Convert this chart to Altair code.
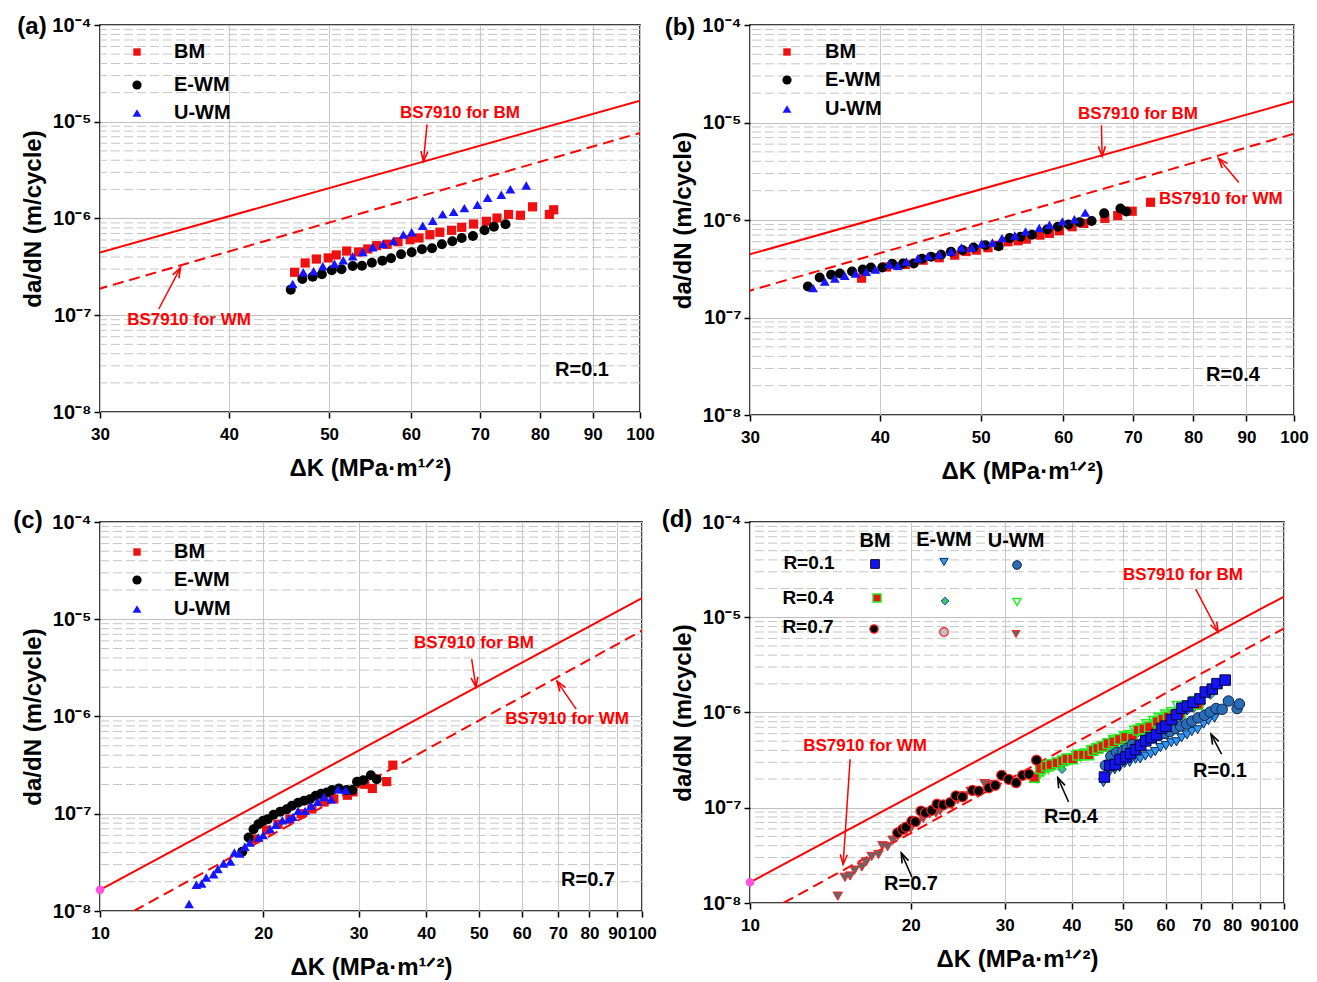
import math
import altair as alt
import pandas as pd

FONT = "Liberation Sans"
RED = "#ff0000"

# ---------------- data ----------------
# panel (a) R=0.1
a_bm_k = [46.3, 47.4, 48.6, 49.9, 50.8, 52.0, 53.4, 54.5, 55.6, 56.9, 58.3, 59.9, 61.1, 62.6, 64.0,
          65.7, 67.2, 69.0, 71.0, 72.7, 74.6, 76.6, 78.7, 81.7, 82.5]
a_bm_v = [2.78e-7, 3.47e-7, 3.81e-7, 3.91e-7, 4.20e-7, 4.61e-7, 4.51e-7, 4.84e-7, 5.24e-7, 5.41e-7,
          5.75e-7, 6.04e-7, 6.29e-7, 6.80e-7, 7.20e-7, 7.55e-7, 8.11e-7, 8.77e-7, 9.35e-7, 1.01e-6,
          1.10e-6, 1.08e-6, 1.32e-6, 1.10e-6, 1.23e-6]
a_ewm_k = [45.9, 47.1, 48.2, 49.2, 50.3, 51.4, 52.7, 53.8, 55.0, 56.3, 57.4, 58.7, 60.1, 61.5, 62.9,
           64.3, 65.8, 67.2, 68.9, 70.7, 72.2, 74.1]
a_ewm_v = [1.84e-7, 2.37e-7, 2.50e-7, 2.65e-7, 2.92e-7, 2.99e-7, 3.23e-7, 3.25e-7, 3.49e-7, 3.66e-7,
           3.88e-7, 4.27e-7, 4.48e-7, 4.81e-7, 4.92e-7, 5.41e-7, 5.81e-7, 6.29e-7, 6.59e-7, 7.55e-7,
           8.23e-7, 8.71e-7]
a_uwm_k = [46.1, 47.2, 48.3, 49.3, 50.6, 51.6, 52.7, 53.9, 55.1, 56.4, 57.7, 59.0, 60.1, 61.6, 63.0,
           64.4, 66.0, 67.6, 69.6, 71.2, 73.4, 74.9, 77.6]
a_uwm_v = [2.10e-7, 2.78e-7, 2.85e-7, 3.21e-7, 3.41e-7, 3.70e-7, 4.07e-7, 4.51e-7, 5.04e-7, 5.45e-7,
           5.85e-7, 6.81e-7, 7.20e-7, 8.43e-7, 9.49e-7, 1.11e-6, 1.17e-6, 1.28e-6, 1.39e-6, 1.64e-6,
           1.76e-6, 2.01e-6, 2.19e-6]

# panel (b) R=0.4
b_bm_k = [38.4, 40.6, 42.3, 44.0, 45.6, 47.2, 48.4, 49.5, 50.8, 52.0, 53.1, 54.3, 55.3, 57.0, 58.2,
          59.5, 61.2, 62.8, 65.8, 67.7, 69.9, 72.8]
b_bm_v = [2.53e-7, 3.30e-7, 3.50e-7, 3.87e-7, 4.10e-7, 4.36e-7, 4.75e-7, 4.91e-7, 5.20e-7, 5.50e-7,
          5.98e-7, 6.12e-7, 6.37e-7, 7.00e-7, 7.30e-7, 7.76e-7, 8.53e-7, 9.23e-7, 1.04e-6, 1.11e-6,
          1.23e-6, 1.52e-6]
b_ewm_k = [34.1, 35.0, 35.9, 36.6, 37.6, 38.5, 39.2, 40.2, 41.1, 42.1, 43.1, 43.9, 44.8, 45.8, 46.8,
           48.0, 49.2, 50.5, 52.0, 53.3, 54.6, 56.0, 57.9, 59.3, 60.7, 62.2, 63.9, 65.7, 68.1, 69.0]
b_ewm_v = [2.08e-7, 2.57e-7, 2.74e-7, 2.83e-7, 2.96e-7, 3.10e-7, 3.26e-7, 3.26e-7, 3.56e-7, 3.58e-7,
           3.58e-7, 4.00e-7, 4.20e-7, 4.40e-7, 4.72e-7, 4.91e-7, 5.23e-7, 5.52e-7, 5.39e-7, 6.52e-7,
           6.73e-7, 7.06e-7, 8.00e-7, 8.53e-7, 9.01e-7, 9.51e-7, 9.75e-7, 1.17e-6, 1.31e-6, 1.22e-6]
b_uwm_k = [34.5, 35.4, 36.2, 37.0, 37.9, 38.8, 39.6, 40.8, 41.6, 42.4, 43.5, 44.5, 45.6, 46.8, 47.9,
           49.0, 50.1, 51.3, 52.4, 53.9, 55.2, 56.9, 58.2, 59.9, 61.5, 63.0]
b_uwm_v = [2.00e-7, 2.34e-7, 2.51e-7, 2.68e-7, 2.83e-7, 2.94e-7, 3.10e-7, 3.52e-7, 3.39e-7, 3.76e-7,
           4.06e-7, 4.26e-7, 4.43e-7, 4.75e-7, 5.23e-7, 5.23e-7, 5.75e-7, 5.89e-7, 6.52e-7, 6.95e-7,
           7.64e-7, 8.26e-7, 8.95e-7, 9.68e-7, 1.02e-6, 1.19e-6]

# panel (c) R=0.7
c_bm_k = [19.2, 20.3, 21.3, 22.4, 23.5, 24.6, 25.9, 27.0, 28.6, 29.3, 30.8, 31.8, 33.8, 34.7]
c_bm_v = [5.5e-8, 6.8e-8, 7.8e-8, 8.8e-8, 1.0e-7, 1.12e-7, 1.32e-7, 1.42e-7, 1.55e-7, 1.68e-7,
          2.01e-7, 1.82e-7, 2.14e-7, 3.16e-7]
c_ewm_k = [18.3, 18.8, 19.2, 19.6, 20.0, 20.4, 20.9, 21.5, 22.1, 22.6, 23.2, 23.8, 24.4, 25.0, 25.6,
           26.2, 26.8, 27.6, 28.5, 29.2, 29.8, 30.6, 31.6, 32.4]
c_ewm_v = [4.06e-8, 5.69e-8, 6.94e-8, 7.82e-8, 8.45e-8, 8.80e-8, 9.75e-8, 1.05e-7, 1.11e-7, 1.21e-7,
           1.30e-7, 1.36e-7, 1.41e-7, 1.53e-7, 1.61e-7, 1.65e-7, 1.75e-7, 1.82e-7, 1.75e-7, 1.75e-7,
           2.13e-7, 2.21e-7, 2.49e-7, 2.27e-7]
c_uwm_k = [14.6, 15.06, 15.4, 15.7, 16.2, 16.5, 16.9, 17.4, 17.7, 18.1, 18.5, 18.9, 19.6, 20.0, 20.6,
           21.1, 21.7, 22.3, 22.7, 23.2, 23.9, 24.5, 25.2, 25.9, 26.7, 27.5, 28.4]
c_uwm_v = [1.18e-8, 1.86e-8, 1.92e-8, 2.21e-8, 2.39e-8, 2.70e-8, 3.08e-8, 3.23e-8, 3.99e-8, 3.90e-8,
           4.57e-8, 5.06e-8, 5.69e-8, 6.03e-8, 6.95e-8, 7.69e-8, 8.59e-8, 8.80e-8, 9.29e-8, 1.07e-7,
           1.07e-7, 1.21e-7, 1.33e-7, 1.49e-7, 1.41e-7, 1.79e-7, 1.75e-7]

# panel (d) R=0.7 BM points (black circles)
d_bm7_k = [18.9, 19.3, 19.6, 20.1, 20.4, 20.9, 21.3, 21.9, 22.4, 23.0, 23.7, 24.3, 25.0, 26.1, 26.8,
           28.0, 28.8, 29.6, 30.5, 31.5, 32.4, 33.3, 34.4]
d_bm7_v = [5.45e-8, 5.93e-8, 6.27e-8, 7.24e-8, 7.13e-8, 9.23e-8, 8.86e-8, 9.39e-8, 1.09e-7, 1.07e-7,
           1.13e-7, 1.33e-7, 1.30e-7, 1.52e-7, 1.50e-7, 1.62e-7, 1.72e-7, 2.19e-7, 1.99e-7, 1.83e-7,
           2.19e-7, 2.25e-7, 3.16e-7]

# BS7910 reference lines
bs_bm_k = [10, 100]
bs_bm_v = [1.65e-8, 1.65e-5]
bs_wm_k = [11.55, 100]
bs_wm_v = [1.0e-8, 7.66e-6]
start_k = [10]
start_v = [1.65e-8]

# ticks
y_major = [1e-8, 1e-7, 1e-6, 1e-5, 1e-4]
y_minor = [m * 10.0 ** e for e in range(-8, -4) for m in range(2, 10)]
x_ticks_ab = [30, 40, 50, 60, 70, 80, 90, 100]
x_ticks_cd = [10, 20, 30, 40, 50, 60, 70, 80, 90, 100]

# annotation arrows: (tail_k, tail_v, tip_k, tip_v, colour)
arrows_a = [(62.2, 9.4e-6, 61.7, 3.9e-6, RED), (34.2, 1.16e-7, 35.9, 3.1e-7, RED)]
arrows_b = [(65.3, 9.4e-6, 65.4, 4.5e-6, RED), (88.5, 2.43e-6, 84.6, 4.3e-6, RED)]
arrows_c = [(48.5, 3.88e-6, 49.4, 2.0e-6, RED), (75.6, 1.19e-6, 69.7, 2.3e-6, RED)]
arrows_d = [(68.3, 1.99e-5, 75.3, 7.0e-6, RED), (15.4, 3.23e-7, 14.94, 2.54e-8, RED),
            (76.4, 3.65e-7, 73.0, 5.93e-7, "black"), (39.5, 1.15e-7, 37.7, 2.07e-7, "black"),
            (20.1, 1.87e-8, 19.2, 3.36e-8, "black")]

ARROW_PATH = "M-0.35,1L0,0L0.35,1"

Y_LABELS = ("datum.value > 5e-5 ? '10⁻⁴' : datum.value > 5e-6 ? '10⁻⁵' : "
            "datum.value > 5e-7 ? '10⁻⁶' : datum.value > 5e-8 ? '10⁻⁷' : '10⁻⁸'")


def df(k, v):
    return pd.DataFrame({"k": k, "v": v})


def txt(label, x, y, size=17, color="black", align="center"):
    return alt.Chart(pd.DataFrame({"t": [label]})).mark_text(
        font=FONT, fontWeight="bold", fontSize=size, color=color, align=align, baseline="middle"
    ).encode(x=alt.value(x), y=alt.value(y), text="t:N")


def sym(x, y, style):
    return alt.Chart(pd.DataFrame({"t": [0]})).mark_point(**style).encode(
        x=alt.value(x), y=alt.value(y))


def panel(xdom, xticks, W, H, series, arrows, texts, legend_marks, magenta=False):
    xs = alt.Scale(type="log", domain=xdom, nice=False)
    ys = alt.Scale(type="log", domain=[1e-8, 1e-4], nice=False)
    xax = alt.Axis(values=xticks, format="d", labelOverlap=False, labelFlush=False,
                   labelFont=FONT, labelFontSize=17,
                   labelFontWeight="bold", labelColor="black", labelPadding=8,
                   title="ΔK (MPa·m¹ᐟ²)", titleFont=FONT, titleFontSize=24,
                   titleFontWeight="bold", titleColor="black", titlePadding=14,
                   grid=True, gridColor="#c8c8c8", gridWidth=1, domain=False,
                   tickColor="black", tickSize=6, tickWidth=1.5)
    yax = alt.Axis(values=y_major, labelExpr=Y_LABELS, labelFlush=False, labelFont=FONT,
                   labelFontSize=20, labelFontWeight="bold", labelColor="black", labelPadding=3,
                   title="da/dN (m/cycle)", titleFont=FONT, titleFontSize=24,
                   titleFontWeight="bold", titleColor="black", titlePadding=6,
                   grid=True, gridColor="#c0c0c0", gridWidth=1.2, domain=False,
                   tickColor="black", tickSize=6, tickWidth=1.5)
    X = alt.X("k:Q", scale=xs, axis=xax)
    Y = alt.Y("v:Q", scale=ys, axis=yax)

    layers = []
    layers.append(alt.Chart(pd.DataFrame({"v": y_minor})).mark_rule(
        color="#c6c6c6", strokeWidth=1, strokeDash=[9, 4]).encode(y=Y))
    layers.append(alt.Chart(df(bs_bm_k, bs_bm_v)).mark_line(
        color=RED, strokeWidth=2, clip=True).encode(x=X, y=Y))
    layers.append(alt.Chart(df(bs_wm_k, bs_wm_v)).mark_line(
        color=RED, strokeWidth=2, strokeDash=[11, 6], clip=True).encode(x=X, y=Y))
    if magenta:
        layers.append(alt.Chart(df(start_k, start_v)).mark_point(
            shape="circle", filled=True, fill="#ff55dd", stroke="#ff55dd", size=45,
            opacity=1).encode(x=X, y=Y))
    for k, v, style in series:
        layers.append(alt.Chart(df(k, v)).mark_point(clip=True, opacity=1, **style).encode(x=X, y=Y))

    sx = W / (math.log10(xdom[1]) - math.log10(xdom[0]))
    sy = H / 4.0
    for (tk, tv, pk, pv, col) in arrows:
        d = pd.DataFrame({"k": [tk], "v": [tv], "k2": [pk], "v2": [pv]})
        layers.append(alt.Chart(d).mark_rule(color=col, strokeWidth=1.5).encode(
            x=X, y=Y, x2="k2:Q", y2="v2:Q"))
        dx = (math.log10(pk) - math.log10(tk)) * sx
        dy = -(math.log10(pv) - math.log10(tv)) * sy
        ang = math.degrees(math.atan2(dx, -dy)) % 360
        h = pd.DataFrame({"k": [pk], "v": [pv], "ang": [ang]})
        layers.append(alt.Chart(h).mark_point(
            shape=ARROW_PATH, filled=False, stroke=col, strokeWidth=1.6, size=400, opacity=1
        ).encode(x=X, y=Y, angle=alt.Angle("ang:Q", scale=None)))
    layers.extend(legend_marks)
    layers.extend(texts)
    return alt.layer(*layers).properties(width=W, height=H)


# marker styles
S_BM = dict(shape="square", filled=True, color="#ee1111", size=85)
S_EWM = dict(shape="circle", filled=True, color="black", size=100)
S_UWM = dict(shape="triangle-up", filled=True, color="#1515ff", size=95)
L_BM = dict(shape="square", filled=True, color="#ee1111", size=55, opacity=1)
L_EWM = dict(shape="circle", filled=True, color="black", size=85, opacity=1)
L_UWM = dict(shape="triangle-up", filled=True, color="#1515ff", size=80, opacity=1)

D1_BM = dict(shape="square", filled=True, fill="#1414f0", stroke="#06063a", strokeWidth=1, size=110)
D1_EWM = dict(shape="triangle-down", filled=True, fill="#2f95f0", stroke="#0c2c60", strokeWidth=1, size=90)
D1_UWM = dict(shape="circle", filled=True, fill="#2b6cb8", stroke="#0b2648", strokeWidth=1, size=110)
D4_BM = dict(shape="square", filled=True, fill="#ee1111", stroke="#22ee22", strokeWidth=1.5, size=95)
D4_EWM = dict(shape="diamond", filled=True, fill="#33cc55", stroke="#2233ff", strokeWidth=1, size=70)
D4_UWM = dict(shape="triangle-down", filled=False, color="#22ee22", stroke="#22ee22", strokeWidth=1.5, size=80)
D7_BM = dict(shape="circle", filled=True, fill="black", stroke="#ff2020", strokeWidth=1.2, size=100)
D7_EWM = dict(shape="circle", filled=True, fill="#c0c0c0", stroke="#ff2020", strokeWidth=1.2, size=100)
D7_UWM = dict(shape="triangle-down", filled=True, fill="#666666", stroke="#ff2020", strokeWidth=1, size=90)


def abc_legend(y0, y1, y2, mx, tx):
    return [sym(mx, y0, L_BM), sym(mx, y1, L_EWM), sym(mx, y2, L_UWM),
            txt("BM", tx, y0, 20, align="left"), txt("E-WM", tx, y1, 20, align="left"),
            txt("U-WM", tx, y2, 20, align="left")]


pa = panel([30, 100], x_ticks_ab, 540, 387,
           [(a_bm_k, a_bm_v, S_BM), (a_ewm_k, a_ewm_v, S_EWM), (a_uwm_k, a_uwm_v, S_UWM)],
           arrows_a,
           [txt("BS7910 for BM", 360, 88, 17, RED), txt("BS7910 for WM", 89, 295, 17, RED),
            txt("R=0.1", 482, 345, 20), txt("(a)", -68, 2, 24)],
           abc_legend(27, 60, 88, 37, 74))

pb = panel([30, 100], x_ticks_ab, 544, 390,
           [(b_bm_k, b_bm_v, S_BM), (b_ewm_k, b_ewm_v, S_EWM), (b_uwm_k, b_uwm_v, S_UWM)],
           arrows_b,
           [txt("BS7910 for BM", 388, 89, 17, RED), txt("BS7910 for WM", 409, 174, 17, RED, "left"),
            txt("R=0.4", 483, 350, 20), txt("(b)", -70, 3, 24)],
           abc_legend(27, 55, 84, 37, 75))

pc = panel([10, 100], x_ticks_cd, 542, 389,
           [(c_bm_k, c_bm_v, S_BM), (c_ewm_k, c_ewm_v, S_EWM), (c_uwm_k, c_uwm_v, S_UWM)],
           arrows_c,
           [txt("BS7910 for BM", 374, 121, 17, RED), txt("BS7910 for WM", 467, 197, 17, RED),
            txt("R=0.7", 488, 358, 20), txt("(c)", -72, -1, 24)],
           abc_legend(30, 58, 87, 37, 74), magenta=True)

d_legend = [
    txt("BM", 125, 19, 20), txt("E-WM", 194, 18, 20), txt("U-WM", 266, 19, 20),
    txt("R=0.1", 59, 41, 19), txt("R=0.4", 58, 76, 19), txt("R=0.7", 58, 105, 19),
    sym(125, 42, {**D1_BM, "size": 75, "opacity": 1}), sym(194, 40, {**D1_EWM, "size": 70, "opacity": 1}),
    sym(267, 43, {**D1_UWM, "size": 75, "opacity": 1}),
    sym(127, 76, {**D4_BM, "size": 65, "opacity": 1}), sym(195, 79, {**D4_EWM, "size": 60, "opacity": 1}),
    sym(267, 80, {**D4_UWM, "size": 65, "opacity": 1}),
    sym(124, 107, {**D7_BM, "size": 70, "opacity": 1}), sym(194, 110, {**D7_EWM, "size": 75, "opacity": 1}),
    sym(266, 112, {**D7_UWM, "size": 65, "opacity": 1}),
]

pd_ = panel([10, 100], x_ticks_cd, 534, 381,
            [(b_uwm_k, b_uwm_v, D4_UWM), (b_bm_k, b_bm_v, D4_EWM), (b_ewm_k, b_ewm_v, D4_BM),
             (c_uwm_k, c_uwm_v, D7_UWM), (d_bm7_k, d_bm7_v, D7_BM),
             (a_ewm_k, a_ewm_v, D1_EWM), (a_bm_k, a_bm_v, D1_UWM), (a_uwm_k, a_uwm_v, D1_BM)],
            arrows_d,
            [txt("BS7910 for BM", 433, 53, 17, RED), txt("BS7910 for WM", 115, 224, 17, RED),
             txt("R=0.1", 470, 249, 20), txt("R=0.4", 321, 295, 20), txt("R=0.7", 161, 362, 20),
             txt("(d)", -73, -2, 24)],
            d_legend, magenta=True)

chart = alt.concat(pa, pb, pc, pd_, columns=2, spacing={"row": 107, "column": 108},
                   bounds="flush").properties(
    padding={"left": 12, "top": 14, "right": 5, "bottom": 5},
    background="white",
).configure_view(stroke="black", strokeWidth=1.5)

chart.save("out.html", embed_options={"renderer": "svg", "actions": False})
